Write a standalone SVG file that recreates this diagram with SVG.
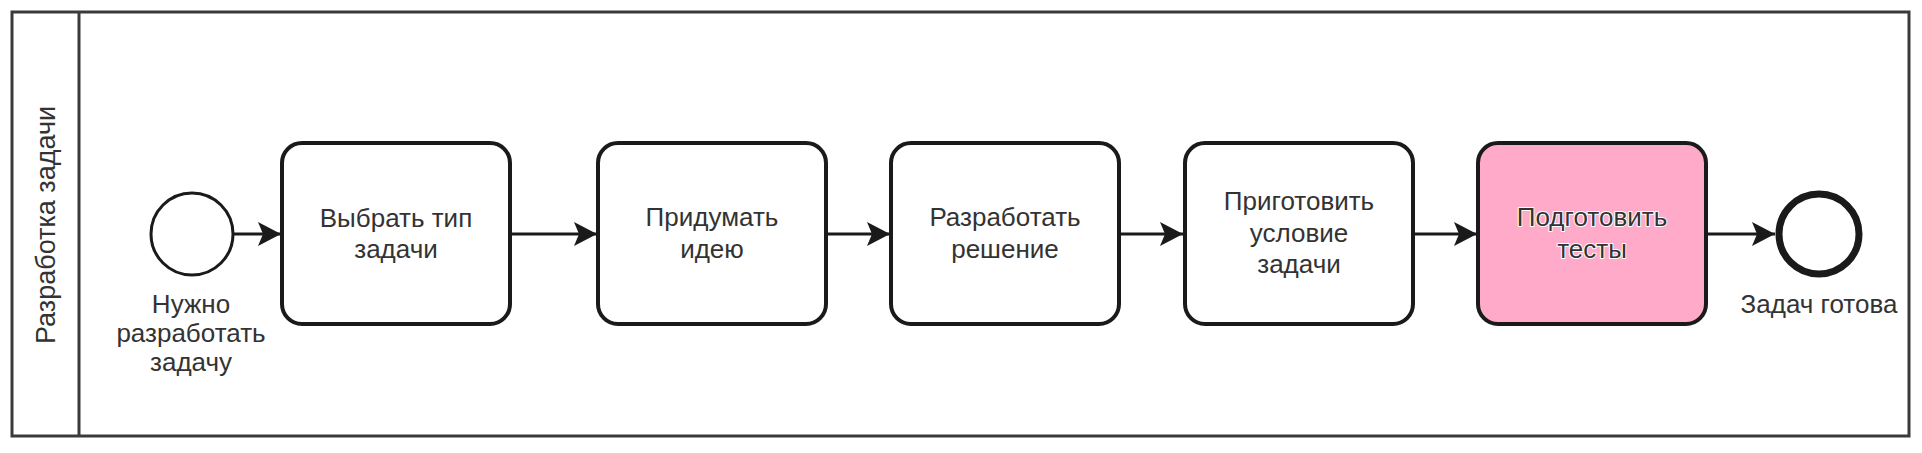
<svg xmlns="http://www.w3.org/2000/svg" width="1922" height="453" viewBox="0 0 1922 453">
  <defs>
    <style>
      .lane { fill: #ffffff; stroke: #3a3a3a; stroke-width: 3; }
      .task { fill: #ffffff; stroke: #1a1a1a; stroke-width: 4; }
      .pink { fill: #feaac8; }
      .evt { fill: #ffffff; stroke: #1a1a1a; stroke-width: 3; }
      .end { fill: #ffffff; stroke: #1a1a1a; stroke-width: 7; }
      .flow { fill: none; stroke: #1a1a1a; stroke-width: 3; }
      .t { font-family: "Liberation Sans", Arial, sans-serif; font-size: 26px; fill: #333333; text-anchor: middle; }
      .halo { stroke: #ffffff; stroke-width: 2; paint-order: stroke; stroke-linejoin: round; }
    </style>
    <marker id="arrow" markerWidth="26" markerHeight="26" viewBox="0 0 26 26" refX="23" refY="13" orient="auto" markerUnits="userSpaceOnUse">
      <path d="M0,1 L23,13 L0,25 L5,13 Z" fill="#1a1a1a"/>
    </marker>
  </defs>

  <g id="pool">
    <rect class="lane" x="12" y="12" width="1897" height="424"/>
    <line x1="79" y1="12" x2="79" y2="436" stroke="#3a3a3a" stroke-width="3"/>
    <text class="t" style="font-size:27px" transform="translate(55,225) rotate(-90)">Разработка задачи</text>
  </g>

  <g id="connectors">
    <line class="flow" x1="234" y1="234" x2="281" y2="234" marker-end="url(#arrow)"/>
    <line class="flow" x1="510" y1="234" x2="597" y2="234" marker-end="url(#arrow)"/>
    <line class="flow" x1="826" y1="234" x2="890" y2="234" marker-end="url(#arrow)"/>
    <line class="flow" x1="1119" y1="234" x2="1183" y2="234" marker-end="url(#arrow)"/>
    <line class="flow" x1="1413" y1="234" x2="1477" y2="234" marker-end="url(#arrow)"/>
    <line class="flow" x1="1706" y1="234" x2="1775" y2="234" marker-end="url(#arrow)"/>
  </g>

  <g id="start">
    <circle class="evt" cx="192" cy="234" r="41"/>
    <text class="t"><tspan x="191" y="313">Нужно</tspan><tspan x="191" y="342">разработать</tspan><tspan x="191" y="371">задачу</tspan></text>
  </g>

  <g id="task1">
    <rect class="task" x="282" y="143" width="228" height="181" rx="20"/>
    <text class="t"><tspan x="396" y="227">Выбрать тип</tspan><tspan x="396" y="258">задачи</tspan></text>
  </g>

  <g id="task2">
    <rect class="task" x="598" y="143" width="228" height="181" rx="20"/>
    <text class="t"><tspan x="712" y="226">Придумать</tspan><tspan x="712" y="258">идею</tspan></text>
  </g>

  <g id="task3">
    <rect class="task" x="891" y="143" width="228" height="181" rx="20"/>
    <text class="t"><tspan x="1005" y="226">Разработать</tspan><tspan x="1005" y="258">решение</tspan></text>
  </g>

  <g id="task4">
    <rect class="task" x="1185" y="143" width="228" height="181" rx="20"/>
    <text class="t"><tspan x="1299" y="210">Приготовить</tspan><tspan x="1299" y="242">условие</tspan><tspan x="1299" y="273">задачи</tspan></text>
  </g>

  <g id="task5">
    <rect class="task pink" x="1478" y="143" width="228" height="181" rx="20"/>
    <text class="t halo"><tspan x="1592" y="226">Подготовить</tspan><tspan x="1592" y="258">тесты</tspan></text>
  </g>

  <g id="end">
    <circle class="end" cx="1819" cy="234" r="40"/>
    <text class="t" x="1819" y="313">Задач готова</text>
  </g>
</svg>
